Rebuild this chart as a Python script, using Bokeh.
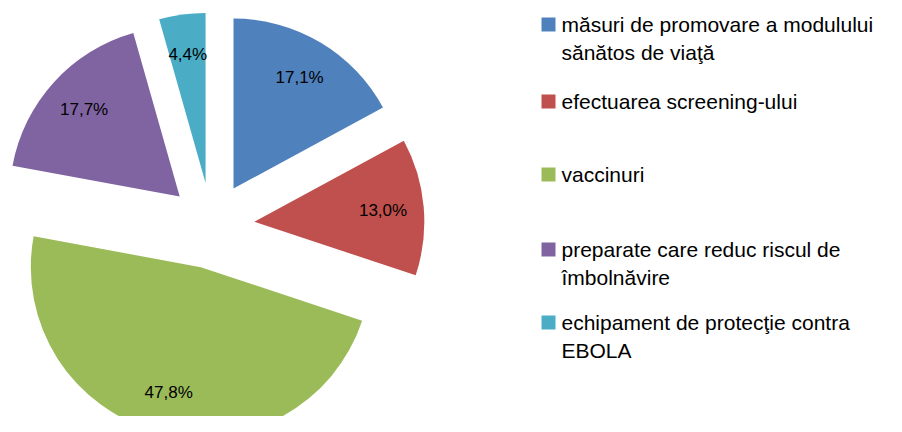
import math
from bokeh.plotting import figure
from bokeh.models import Range1d, ColumnDataSource
from bokeh.core.properties import value
from bokeh.embed import file_html
from bokeh.resources import INLINE

categories = [
    "măsuri de promovare a modulului\nsănătos de viaţă",
    "efectuarea screening-ului",
    "vaccinuri",
    "preparate care reduc riscul de\nîmbolnăvire",
    "echipament de protecţie contra\nEBOLA",
]
shares = [17.1, 13.0, 47.8, 17.7, 4.4]
colors = ["#4F81BD", "#C0504D", "#9BBB59", "#8064A2", "#4BACC6"]

W, H = 886, 416
p = figure(width=W, height=H, output_backend="svg", toolbar_location=None,
           x_range=Range1d(0, W), y_range=Range1d(432 - H, 432),
           min_border=0, background_fill_color="white", border_fill_color="white")
p.axis.visible = False
p.grid.visible = False
p.outline_line_color = None

cx, cy = 211, 432 - 225
R = 170
explode = 43
label_frac = 0.76

total = sum(shares)
xs, ys, starts, ends, lx, ly, labels = [], [], [], [], [], [], []
cum = 0.0
for s in shares:
    a0 = math.pi / 2 - 2 * math.pi * cum / total
    a1 = math.pi / 2 - 2 * math.pi * (cum + s) / total
    mid = (a0 + a1) / 2
    ox = cx + explode * math.cos(mid)
    oy = cy + explode * math.sin(mid)
    xs.append(ox); ys.append(oy); starts.append(a0); ends.append(a1)
    lx.append(ox + label_frac * R * math.cos(mid))
    ly.append(oy + label_frac * R * math.sin(mid))
    labels.append(f"{s:.1f}%".replace(".", ","))
    cum += s

src = ColumnDataSource(dict(x=xs, y=ys, start=starts, end=ends, color=colors,
                            lx=lx, ly=ly, label=labels))
p.wedge(x="x", y="y", radius=R, start_angle="start", end_angle="end",
        direction="clock", fill_color="color", line_color=None, source=src)
p.text(x="lx", y="ly", text="label", source=src, text_align="center",
       text_baseline="middle", text_font=value("Liberation Sans"),
       text_font_size="17px", text_color="black")

# legend
entry_y = [24, 101, 174, 249, 322]
line_gap = 28
sq_x, sq_size, tx = 548, 14, 561
sqx, sqy, sqc = [], [], []
tx_list, ty_list, tt_list = [], [], []
for cat, col, ey in zip(categories, colors, entry_y):
    sqx.append(sq_x); sqy.append(432 - ey); sqc.append(col)
    for j, line in enumerate(cat.split("\n")):
        tx_list.append(tx); ty_list.append(432 - (ey + j * line_gap)); tt_list.append(line)

p.rect(x=sqx, y=sqy, width=sq_size, height=sq_size, fill_color=sqc, line_color=None)
p.text(x=tx_list, y=ty_list, text=tt_list, text_align="left", text_baseline="middle",
       text_font=value("Liberation Sans"), text_font_size="21px", text_color="black")

open("out.html", "w").write(file_html(p, INLINE))
